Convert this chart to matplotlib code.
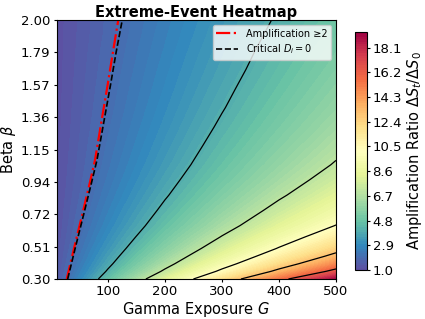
import numpy as np
import matplotlib
matplotlib.use("Agg")
import matplotlib.pyplot as plt
from matplotlib.lines import Line2D

# ---- data ----
gamma_exposure = [10, 100, 200, 300, 400, 500]
beta_values = [0.30, 0.35, 0.40, 0.45, 0.50, 0.575, 0.65, 0.75, 0.85, 0.95,
               1.05, 1.175, 1.30, 1.425, 1.55, 1.675, 1.80, 1.90, 2.00]
amplification = [
    [1.36, 4.60, 8.20, 11.80, 15.40, 19.00],
    [1.31, 4.11, 7.22, 10.33, 13.44, 16.56],
    [1.28, 3.76, 6.52, 9.29, 12.05, 14.81],
    [1.25, 3.50, 5.99, 8.49, 10.98, 13.48],
    [1.23, 3.28, 5.55, 7.83, 10.11, 12.39],
    [1.20, 3.02, 5.04, 7.07, 9.09, 11.11],
    [1.18, 2.81, 4.62, 6.43, 8.24, 10.05],
    [1.16, 2.61, 4.22, 5.83, 7.44, 9.05],
    [1.14, 2.45, 3.90, 5.35, 6.80, 8.25],
    [1.13, 2.32, 3.65, 4.97, 6.29, 7.62],
    [1.12, 2.22, 3.44, 4.67, 5.89, 7.11],
    [1.11, 2.13, 3.25, 4.38, 5.50, 6.63],
    [1.10, 2.05, 3.09, 4.14, 5.18, 6.23],
    [1.10, 1.98, 2.96, 3.94, 4.92, 5.90],
    [1.09, 1.93, 2.85, 3.78, 4.70, 5.63],
    [1.09, 1.88, 2.76, 3.63, 4.51, 5.39],
    [1.08, 1.84, 2.67, 3.51, 4.35, 5.19],
    [1.08, 1.80, 2.61, 3.41, 4.22, 5.02],
    [1.08, 1.78, 2.55, 3.33, 4.10, 4.88],
]
contour_levels = [4, 7, 10, 13, 16]

amp2_beta = [0.30, 0.51, 0.72, 0.94, 1.08, 1.36, 1.57, 1.79, 2.00]
amp2_gamma = [27.9, 41.3, 55.0, 69.0, 77.5, 90.0, 99.5, 109.0, 118.3]
crit_beta = [0.30, 0.51, 0.72, 0.94, 1.08, 1.36, 1.57, 1.79, 2.00]
crit_gamma = [29.6, 43.3, 57.4, 71.9, 80.9, 94.4, 104.5, 114.6, 125.3]

beta_ticks = [0.30, 0.5125, 0.725, 0.9375, 1.15, 1.3625, 1.575, 1.7875, 2.00]
beta_tick_labels = ["0.30", "0.51", "0.72", "0.94", "1.15", "1.36", "1.57", "1.79", "2.00"]
cbar_ticks = [1.0, 2.9, 4.8, 6.7, 8.6, 10.5, 12.4, 14.3, 16.2, 18.1]
cbar_range = [1.0, 19.3]

# ---- figure ----
fig = plt.figure(figsize=(4.25, 3.19), dpi=100)
ax = fig.add_axes([56.5 / 425, 1 - 279 / 319, (336 - 56.5) / 425, (279 - 20) / 319])
cax = fig.add_axes([355 / 425, 1 - 270 / 319, 12 / 425, (270 - 32) / 319])

G = np.array(gamma_exposure)
B = np.array(beta_values)
Z = np.array(amplification)

fill_levels = np.linspace(cbar_range[0], cbar_range[1], 101)
cf = ax.contourf(G, B, Z, levels=fill_levels, cmap="Spectral_r")
ax.contour(G, B, Z, levels=contour_levels, colors="black", linewidths=0.9)

ax.plot(amp2_gamma, amp2_beta, color="red", linestyle="-.", linewidth=1.6)
ax.plot(crit_gamma, crit_beta, color="black", linestyle="--", linewidth=1.2)

ax.set_xlim(10, 500)
ax.set_ylim(0.30, 2.00)
ax.set_xticks([100, 200, 300, 400, 500])
ax.set_yticks(beta_ticks)
ax.set_yticklabels(beta_tick_labels)
ax.tick_params(labelsize=9.5, length=2.5, pad=2)

ax.set_xlabel(r"Gamma Exposure $G$", fontsize=10.5, labelpad=1)
ax.set_ylabel(r"Beta $\beta$", fontsize=10.5, labelpad=2)
ax.set_title("Extreme-Event Heatmap", fontsize=10.5, fontweight="bold", pad=2)

handles = [
    Line2D([], [], color="red", linestyle="-.", linewidth=1.6),
    Line2D([], [], color="black", linestyle="--", linewidth=1.2),
]
ax.legend(handles, ["Amplification ≥2", r"Critical $D_i = 0$"], loc="upper right",
          fontsize=7, framealpha=0.8, borderpad=0.4, handlelength=2.2, labelspacing=0.4)

cb = fig.colorbar(cf, cax=cax, ticks=cbar_ticks)
cb.ax.set_yticklabels([f"{t:.1f}" for t in cbar_ticks])
cb.ax.tick_params(labelsize=9.5, length=2.5, pad=1.5)
cb.set_label(r"Amplification Ratio $\Delta S_t/\Delta S_0$", fontsize=10.5, labelpad=2)
cb.outline.set_linewidth(0.8)

fig.savefig("out.png", dpi=100)
